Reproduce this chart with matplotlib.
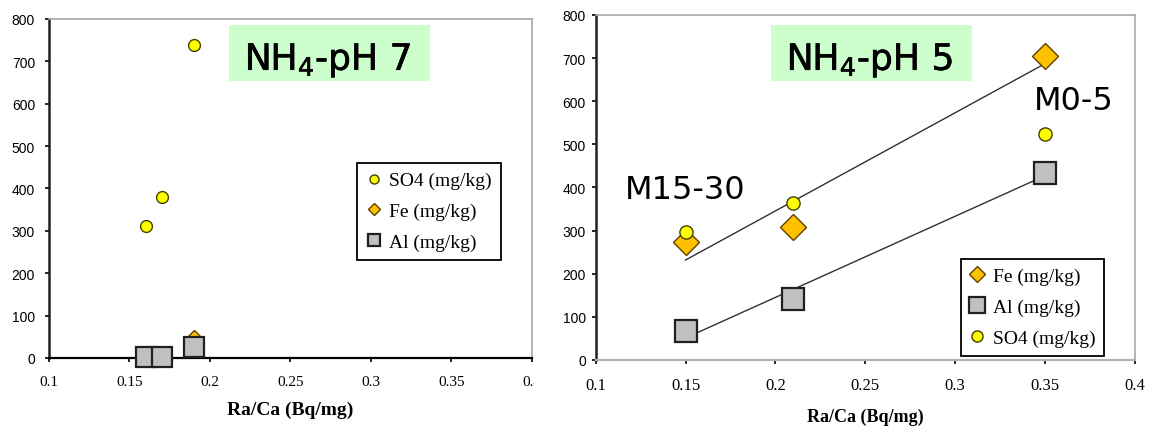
import matplotlib
matplotlib.use('Agg')
import matplotlib.pyplot as plt
import matplotlib.patheffects as pe
import numpy as np
from matplotlib.patches import Rectangle
from matplotlib.transforms import Bbox

# NH4 - pH 7 (left panel)
ph7_so4_x = [0.16, 0.17, 0.19]
ph7_so4_y = [311, 380, 738]
ph7_fe_x = [0.16, 0.17, 0.19]
ph7_fe_y = [3, 3, 42]
ph7_al_x = [0.16, 0.17, 0.19]
ph7_al_y = [3, 3, 27]

# NH4 - pH 5 (right panel)
ph5_x = [0.15, 0.21, 0.35]
ph5_fe_y = [274, 308, 705]
ph5_al_y = [67, 141, 434]
ph5_so4_y = [297, 364, 524]

x_ticks = [0.1, 0.15, 0.2, 0.25, 0.3, 0.35, 0.4]
y_ticks = [0, 100, 200, 300, 400, 500, 600, 700, 800]

YELLOW = '#ffff00'
ORANGE = '#ffc000'
GRAY = '#c0c0c0'
GREEN_BOX = '#ccffcc'
SERIF = 'Liberation Serif'
SANS = 'Liberation Sans'

fig = plt.figure(figsize=(11.5, 4.27), dpi=100)
ax1 = fig.add_axes([0.0426, 0.1593, 0.42, 0.794])
ax2 = fig.add_axes([0.518, 0.1546, 0.4687, 0.808])


def style_axes(ax, xsize, ypad, bottom_color):
    ax.set_xlim(0.1, 0.4)
    ax.set_ylim(0, 800)
    ax.set_xticks(x_ticks)
    ax.set_xticklabels(['%g' % t for t in x_ticks])
    ax.set_yticks(y_ticks)
    for side in ['top', 'right']:
        ax.spines[side].set_color('#a8a8a8')
        ax.spines[side].set_linewidth(1.2)
    ax.spines['left'].set_color('#202020')
    ax.spines['left'].set_linewidth(1.8)
    ax.spines['bottom'].set_color(bottom_color)
    ax.spines['bottom'].set_linewidth(1.6)
    ax.tick_params(axis='x', direction='out', length=3, width=1.2, pad=9)
    ax.tick_params(axis='y', direction='out', length=3, width=1.2, pad=ypad)
    for lab in ax.get_xticklabels():
        lab.set_family(SERIF)
        lab.set_fontsize(xsize)
    for lab in ax.get_yticklabels():
        lab.set_family(SANS)
        lab.set_fontsize(10)


def title_box(ax, x0, x1, y0, y1, tx, ty, text):
    ax.add_patch(Rectangle((x0, y0), x1 - x0, y1 - y0, transform=ax.transAxes,
                           facecolor=GREEN_BOX, edgecolor='none', zorder=1))
    t = ax.text(tx, ty, text, transform=ax.transAxes, ha='center', va='baseline',
                fontsize=26, family='DejaVu Sans', zorder=2)
    t.set_path_effects([pe.withStroke(linewidth=0.45, foreground='black')])


def legend_box(ax, anchor, sizes):
    leg = ax.legend(loc='upper left', bbox_to_anchor=anchor, borderaxespad=0,
                    fancybox=False, edgecolor='black', framealpha=1,
                    prop={'family': SERIF, 'size': 14},
                    handlelength=0.8, handletextpad=0.4, labelspacing=0.68,
                    borderpad=0.45)
    leg.get_frame().set_linewidth(1.3)
    for h, s in zip(leg.legend_handles, sizes):
        h.set_markersize(s)
    leg.set_zorder(6)
    return leg


# left panel
style_axes(ax1, 11, 7, 'black')
ax1.plot(ph7_so4_x, ph7_so4_y, 'o', ms=8.5, mfc=YELLOW, mec='#404000', mew=1,
         label='SO4 (mg/kg)', zorder=4)
ax1.plot(ph7_fe_x, ph7_fe_y, 'D', ms=10, mfc=ORANGE, mec='#604000', mew=1,
         label='Fe (mg/kg)', zorder=3, clip_on=False)
ax1.plot(ph7_al_x, ph7_al_y, 's', ms=14, mfc=GRAY, mec='#202020', mew=1.6,
         label='Al (mg/kg)', zorder=5, clip_on=False)
title_box(ax1, 0.373, 0.789, 0.817, 0.982, 0.578, 0.850, r'NH$_4$-pH 7')
ax1.set_xlabel('Ra/Ca (Bq/mg)', family=SERIF, fontweight='bold', fontsize=14,
               labelpad=9.5)
legend_box(ax1, (0.638, 0.575), [6.5, 6.5, 9])
# last tick label is cut by the picture edge
clip = Bbox.from_extents(0, 0, 534, 427)
ax1.get_xticklabels()[-1].set_clip_box(clip)
ax1.get_xticklabels()[-1].set_clip_on(True)

# right panel
style_axes(ax2, 12, 4, '#b4b4b4')
xs = np.array([0.15, 0.35])
fe_fit = np.polyfit(ph5_x, ph5_fe_y, 1)
al_fit = np.polyfit(ph5_x, ph5_al_y, 1)
ax2.plot(xs, np.polyval(fe_fit, xs), color='#303030', lw=1, zorder=2)
ax2.plot(xs, np.polyval(al_fit, xs), color='#303030', lw=1, zorder=2)
ax2.plot(ph5_x, ph5_fe_y, 'D', ms=13, mfc=ORANGE, mec='#604000', mew=1,
         label='Fe (mg/kg)', zorder=3)
ax2.plot(ph5_x, ph5_al_y, 's', ms=16, mfc=GRAY, mec='#202020', mew=1.6,
         label='Al (mg/kg)', zorder=3)
ax2.plot(ph5_x, ph5_so4_y, 'o', ms=9.5, mfc=YELLOW, mec='#404000', mew=1,
         label='SO4 (mg/kg)', zorder=4)
title_box(ax2, 0.325, 0.699, 0.809, 0.971, 0.509, 0.841, r'NH$_4$-pH 5')
ax2.text(0.3663, 582, 'M0-5', ha='center', va='baseline', fontsize=23,
         family='DejaVu Sans')
ax2.text(0.1498, 376, 'M15-30', ha='center', va='baseline', fontsize=23,
         family='DejaVu Sans')
ax2.set_xlabel('Ra/Ca (Bq/mg)', family=SERIF, fontweight='bold', fontsize=13,
               labelpad=10.5)
legend_box(ax2, (0.677, 0.293), [8.5, 11, 8])

fig.savefig('out.png', dpi=100)
